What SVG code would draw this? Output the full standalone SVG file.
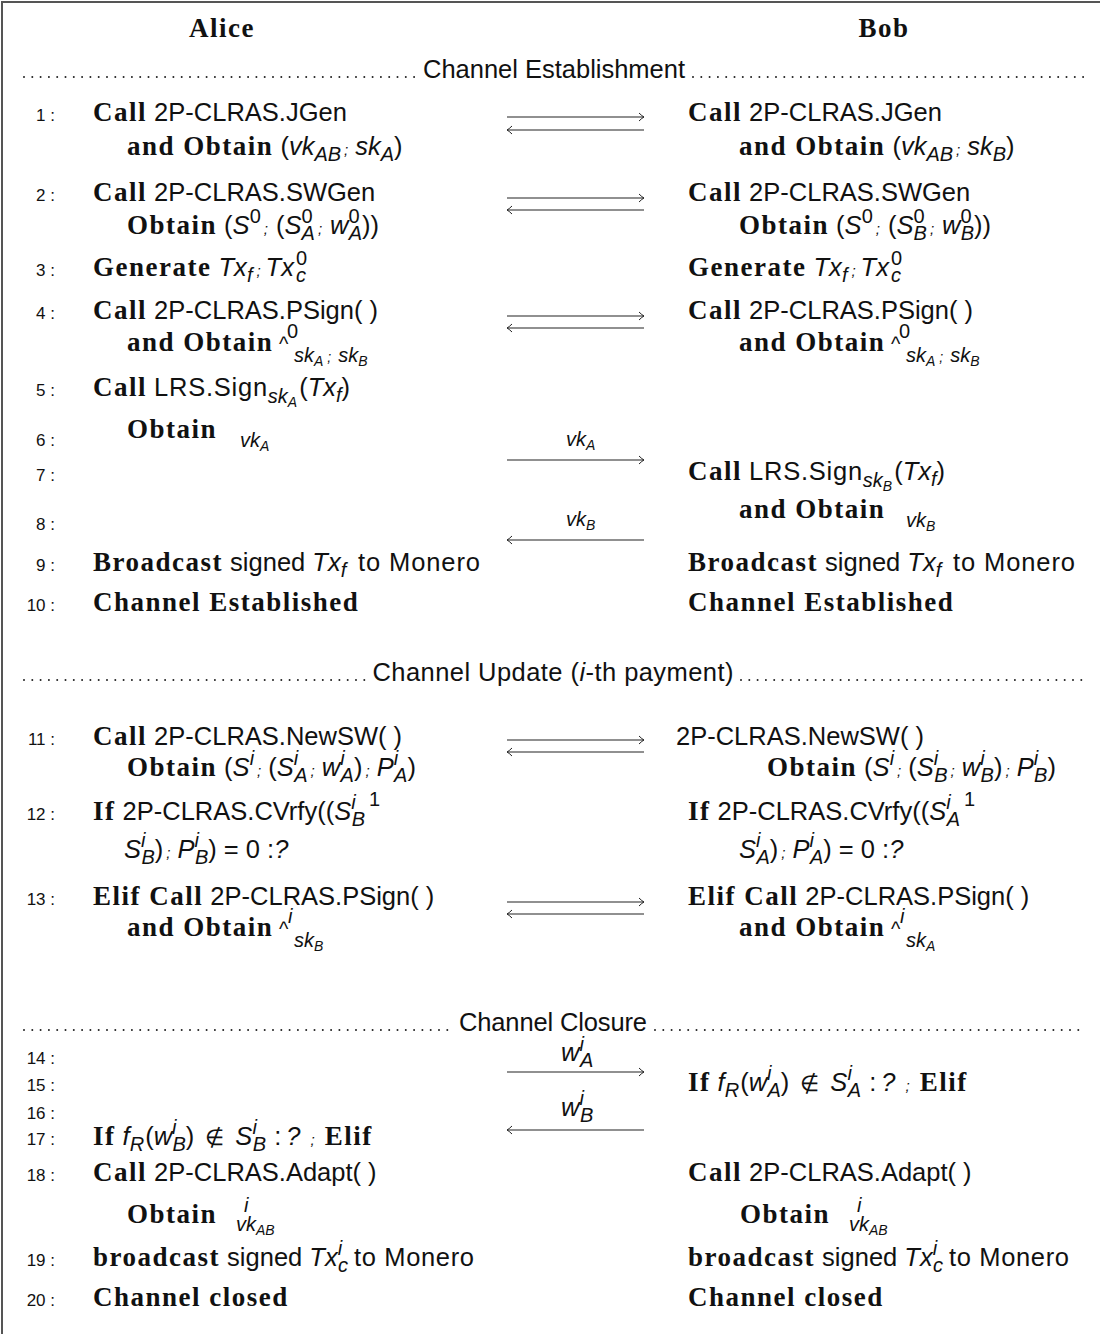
<svg xmlns="http://www.w3.org/2000/svg" width="1100" height="1334" viewBox="0 0 1100 1334">
<style>
text { font-family: "Liberation Sans", Arial, sans-serif; font-size: 25.5px; fill: #111; }
.b { font-family: "Liberation Serif", "Times New Roman", serif; font-weight: bold; font-size: 27px; letter-spacing: 1.5px; }
.i { font-style: italic; }
.s { font-style: italic; font-size: 20px; }
.su { font-size: 20px; }
.ss { font-style: italic; font-size: 14px; }
.sm { font-style: italic; font-size: 15px; }
.n { font-size: 17px; }
.ne { font-size: 22px; }
.dots { stroke: #222; stroke-width: 2; stroke-linecap: round; stroke-dasharray: 0 8.3; fill: none; }
.arr { stroke: #222; stroke-width: 1.2; fill: none; marker-end: url(#ah); }
</style>
<defs>
<marker id="ah" markerWidth="10" markerHeight="10" refX="7" refY="5" orient="auto" markerUnits="userSpaceOnUse">
<path d="M2,1 Q5,4 7,5 Q5,6 2,9" fill="none" stroke="#222" stroke-width="1"/>
</marker>
</defs>
<rect width="1100" height="1334" fill="#fff"/>
<path d="M2,1334 V2 H1100" fill="none" stroke="#555" stroke-width="2"/>

<g id="header">
<text x="222" y="37" text-anchor="middle" class="b">Alice</text>
<text x="884" y="37" text-anchor="middle" class="b">Bob</text>
</g>

<g id="sections">
<line class="dots" x1="24" y1="77" x2="417" y2="77"/>
<text x="554" y="78" text-anchor="middle" textLength="262">Channel Establishment</text>
<line class="dots" x1="693" y1="77" x2="1085" y2="77"/>
<line class="dots" x1="24" y1="680" x2="366" y2="680"/>
<text x="553" y="681" text-anchor="middle" textLength="361">Channel Update (<tspan class="i">i</tspan>-th payment)</text>
<line class="dots" x1="741" y1="680" x2="1085" y2="680"/>
<line class="dots" x1="24" y1="1030" x2="453" y2="1030"/>
<text x="553" y="1031" text-anchor="middle" textLength="188">Channel Closure</text>
<line class="dots" x1="655" y1="1030" x2="1085" y2="1030"/>
</g>

<g id="line-numbers">
<text class="n" x="55" y="121" text-anchor="end">1 :</text>
<text class="n" x="55" y="201" text-anchor="end">2 :</text>
<text class="n" x="55" y="276" text-anchor="end">3 :</text>
<text class="n" x="55" y="319" text-anchor="end">4 :</text>
<text class="n" x="55" y="396" text-anchor="end">5 :</text>
<text class="n" x="55" y="446" text-anchor="end">6 :</text>
<text class="n" x="55" y="481" text-anchor="end">7 :</text>
<text class="n" x="55" y="530" text-anchor="end">8 :</text>
<text class="n" x="55" y="571" text-anchor="end">9 :</text>
<text class="n" x="55" y="611" text-anchor="end">10 :</text>
<text class="n" x="55" y="745" text-anchor="end">11 :</text>
<text class="n" x="55" y="820" text-anchor="end">12 :</text>
<text class="n" x="55" y="905" text-anchor="end">13 :</text>
<text class="n" x="55" y="1064" text-anchor="end">14 :</text>
<text class="n" x="55" y="1091" text-anchor="end">15 :</text>
<text class="n" x="55" y="1119" text-anchor="end">16 :</text>
<text class="n" x="55" y="1145" text-anchor="end">17 :</text>
<text class="n" x="55" y="1181" text-anchor="end">18 :</text>
<text class="n" x="55" y="1266" text-anchor="end">19 :</text>
<text class="n" x="55" y="1306" text-anchor="end">20 :</text>
</g>

<g id="alice">
<text x="93" y="121"><tspan class="b">Call</tspan> 2P-CLRAS.JGen</text>
<text x="127" y="155"><tspan class="b">and Obtain</tspan> (<tspan class="i">vk</tspan><tspan class="s" dy="6">AB</tspan><tspan class="sm" dx="3" dy="-6">;</tspan><tspan class="i" dx="7">sk</tspan><tspan class="s" dy="6">A</tspan><tspan dy="-6">)</tspan></text>
<text x="93" y="201"><tspan class="b">Call</tspan> 2P-CLRAS.SWGen</text>
<text x="127" y="234"><tspan class="b">Obtain</tspan> (<tspan class="i">S</tspan><tspan class="su" dy="-11">0</tspan><tspan class="sm" dx="3" dy="11">;</tspan><tspan dx="8">(</tspan><tspan class="i">S</tspan><tspan class="su" dy="-11">0</tspan><tspan class="s" dx="-11" dy="17">A</tspan><tspan class="sm" dx="3" dy="-6">;</tspan><tspan class="i" dx="8">w</tspan><tspan class="su" dy="-11">0</tspan><tspan class="s" dx="-11" dy="17">A</tspan><tspan dy="-6">))</tspan></text>
<text x="93" y="276"><tspan class="b">Generate</tspan> <tspan class="i">Tx</tspan><tspan class="s" dy="6">f</tspan><tspan class="sm" dx="4" dy="-6">;</tspan><tspan class="i" dx="5">Tx</tspan><tspan class="su" dx="2" dy="-11">0</tspan><tspan class="s" dx="-11" dy="17">c</tspan></text>
<text x="93" y="319"><tspan class="b">Call</tspan> 2P-CLRAS.PSign( )</text>
<text x="127" y="351"><tspan class="b">and Obtain</tspan><tspan class="su" x="279" y="351">^</tspan><tspan class="su" x="287" y="338">0</tspan><tspan class="s" x="294" y="362">sk</tspan><tspan class="ss" dy="4">A</tspan><tspan class="ss" dx="4" dy="-4">;</tspan><tspan class="s" dx="7">sk</tspan><tspan class="ss" dy="4">B</tspan></text>
<text x="93" y="396"><tspan class="b">Call</tspan> <tspan textLength="113">LRS.Sign</tspan><tspan class="s" dy="7">sk</tspan><tspan class="ss" dy="4">A</tspan><tspan dx="2" dy="-11">(</tspan><tspan class="i">Tx</tspan><tspan class="s" dy="6">f</tspan><tspan dy="-6">)</tspan></text>
<text x="127" y="438"><tspan class="b">Obtain</tspan><tspan class="s" x="240" y="447">vk</tspan><tspan class="ss" dy="4">A</tspan></text>
<text x="93" y="571"><tspan class="b">Broadcast</tspan> signed <tspan class="i">Tx</tspan><tspan class="s" dy="6">f</tspan><tspan x="358" dy="-6" textLength="122">to Monero</tspan></text>
<text x="93" y="611" class="b">Channel Established</text>
<text x="93" y="745"><tspan class="b">Call</tspan> 2P-CLRAS.NewSW( )</text>
<text x="127" y="776"><tspan class="b">Obtain</tspan> (<tspan class="i">S</tspan><tspan class="s" dy="-11">i</tspan><tspan class="sm" dx="3" dy="11">;</tspan><tspan dx="7">(</tspan><tspan class="i">S</tspan><tspan class="s" dy="-11">i</tspan><tspan class="s" dx="-4" dy="17">A</tspan><tspan class="sm" dx="3" dy="-6">;</tspan><tspan class="i" dx="7">w</tspan><tspan class="s" dy="-11">i</tspan><tspan class="s" dx="-4" dy="17">A</tspan><tspan dy="-6">)</tspan><tspan class="sm" dx="3">;</tspan><tspan class="i" dx="7">P</tspan><tspan class="s" dy="-11">i</tspan><tspan class="s" dx="-4" dy="17">A</tspan><tspan dy="-6">)</tspan></text>
<text x="93" y="820"><tspan class="b">If</tspan> 2P-CLRAS.CVrfy((<tspan class="i">S</tspan><tspan class="s" dy="-11">i</tspan><tspan class="s" dx="-4" dy="17">B</tspan><tspan class="su" dx="4" dy="-20">1</tspan></text>
<text x="124" y="858"><tspan class="i">S</tspan><tspan class="s" dy="-11">i</tspan><tspan class="s" dx="-4" dy="17">B</tspan><tspan dy="-6">)</tspan><tspan class="sm" dx="3">;</tspan><tspan class="i" dx="7">P</tspan><tspan class="s" dy="-11">i</tspan><tspan class="s" dx="-4" dy="17">B</tspan><tspan dy="-6">) = 0 :</tspan><tspan class="i">?</tspan></text>
<text x="93" y="905"><tspan class="b">Elif Call</tspan> 2P-CLRAS.PSign( )</text>
<text x="127" y="936"><tspan class="b">and Obtain</tspan><tspan class="su" x="279" y="936">^</tspan><tspan class="s" x="288" y="923">i</tspan><tspan class="s" x="294" y="947">sk</tspan><tspan class="ss" dy="4">B</tspan></text>
<text x="93" y="1145"><tspan class="b">If</tspan> <tspan class="i">f</tspan><tspan class="s" dy="6">R</tspan><tspan dx="1" dy="-6">(</tspan><tspan class="i">w</tspan><tspan class="s" dy="-11">i</tspan><tspan class="s" dx="-4" dy="17">B</tspan><tspan dy="-6">)</tspan><tspan class="ne" dx="11">∉</tspan><tspan class="i" dx="11">S</tspan><tspan class="s" dy="-11">i</tspan><tspan class="s" dx="-4" dy="17">B</tspan><tspan dx="8" dy="-6">:</tspan><tspan class="i" dx="5">?</tspan><tspan class="sm" dx="10">;</tspan><tspan class="b" dx="10">Elif</tspan></text>
<text x="93" y="1181"><tspan class="b">Call</tspan> 2P-CLRAS.Adapt( )</text>
<text x="127" y="1223"><tspan class="b">Obtain</tspan><tspan class="s" x="244" y="1212">i</tspan><tspan class="s" x="236" y="1231">vk</tspan><tspan class="ss" dy="4">AB</tspan></text>
<text x="93" y="1266"><tspan class="b">broadcast</tspan> signed <tspan class="i">Tx</tspan><tspan class="s" dy="-11">i</tspan><tspan class="s" dx="-4" dy="17">c</tspan><tspan x="354" dy="-6" textLength="120">to Monero</tspan></text>
<text x="93" y="1306" class="b">Channel closed</text>
</g>

<g id="bob">
<text x="688" y="121"><tspan class="b">Call</tspan> 2P-CLRAS.JGen</text>
<text x="739" y="155"><tspan class="b">and Obtain</tspan> (<tspan class="i">vk</tspan><tspan class="s" dy="6">AB</tspan><tspan class="sm" dx="3" dy="-6">;</tspan><tspan class="i" dx="7">sk</tspan><tspan class="s" dy="6">B</tspan><tspan dy="-6">)</tspan></text>
<text x="688" y="201"><tspan class="b">Call</tspan> 2P-CLRAS.SWGen</text>
<text x="739" y="234"><tspan class="b">Obtain</tspan> (<tspan class="i">S</tspan><tspan class="su" dy="-11">0</tspan><tspan class="sm" dx="3" dy="11">;</tspan><tspan dx="8">(</tspan><tspan class="i">S</tspan><tspan class="su" dy="-11">0</tspan><tspan class="s" dx="-11" dy="17">B</tspan><tspan class="sm" dx="3" dy="-6">;</tspan><tspan class="i" dx="8">w</tspan><tspan class="su" dy="-11">0</tspan><tspan class="s" dx="-11" dy="17">B</tspan><tspan dy="-6">))</tspan></text>
<text x="688" y="276"><tspan class="b">Generate</tspan> <tspan class="i">Tx</tspan><tspan class="s" dy="6">f</tspan><tspan class="sm" dx="4" dy="-6">;</tspan><tspan class="i" dx="5">Tx</tspan><tspan class="su" dx="2" dy="-11">0</tspan><tspan class="s" dx="-11" dy="17">c</tspan></text>
<text x="688" y="319"><tspan class="b">Call</tspan> 2P-CLRAS.PSign( )</text>
<text x="739" y="351"><tspan class="b">and Obtain</tspan><tspan class="su" x="891" y="351">^</tspan><tspan class="su" x="899" y="338">0</tspan><tspan class="s" x="906" y="362">sk</tspan><tspan class="ss" dy="4">A</tspan><tspan class="ss" dx="4" dy="-4">;</tspan><tspan class="s" dx="7">sk</tspan><tspan class="ss" dy="4">B</tspan></text>
<text x="688" y="480"><tspan class="b">Call</tspan> <tspan textLength="113">LRS.Sign</tspan><tspan class="s" dy="7">sk</tspan><tspan class="ss" dy="4">B</tspan><tspan dx="2" dy="-11">(</tspan><tspan class="i">Tx</tspan><tspan class="s" dy="6">f</tspan><tspan dy="-6">)</tspan></text>
<text x="739" y="518"><tspan class="b">and Obtain</tspan><tspan class="s" x="906" y="527">vk</tspan><tspan class="ss" dy="4">B</tspan></text>
<text x="688" y="571"><tspan class="b">Broadcast</tspan> signed <tspan class="i">Tx</tspan><tspan class="s" dy="6">f</tspan><tspan x="953" dy="-6" textLength="122">to Monero</tspan></text>
<text x="688" y="611" class="b">Channel Established</text>
<text x="676" y="745">2P-CLRAS.NewSW( )</text>
<text x="767" y="776"><tspan class="b">Obtain</tspan> (<tspan class="i">S</tspan><tspan class="s" dy="-11">i</tspan><tspan class="sm" dx="3" dy="11">;</tspan><tspan dx="7">(</tspan><tspan class="i">S</tspan><tspan class="s" dy="-11">i</tspan><tspan class="s" dx="-4" dy="17">B</tspan><tspan class="sm" dx="3" dy="-6">;</tspan><tspan class="i" dx="7">w</tspan><tspan class="s" dy="-11">i</tspan><tspan class="s" dx="-4" dy="17">B</tspan><tspan dy="-6">)</tspan><tspan class="sm" dx="3">;</tspan><tspan class="i" dx="7">P</tspan><tspan class="s" dy="-11">i</tspan><tspan class="s" dx="-4" dy="17">B</tspan><tspan dy="-6">)</tspan></text>
<text x="688" y="820"><tspan class="b">If</tspan> 2P-CLRAS.CVrfy((<tspan class="i">S</tspan><tspan class="s" dy="-11">i</tspan><tspan class="s" dx="-4" dy="17">A</tspan><tspan class="su" dx="4" dy="-20">1</tspan></text>
<text x="739" y="858"><tspan class="i">S</tspan><tspan class="s" dy="-11">i</tspan><tspan class="s" dx="-4" dy="17">A</tspan><tspan dy="-6">)</tspan><tspan class="sm" dx="3">;</tspan><tspan class="i" dx="7">P</tspan><tspan class="s" dy="-11">i</tspan><tspan class="s" dx="-4" dy="17">A</tspan><tspan dy="-6">) = 0 :</tspan><tspan class="i">?</tspan></text>
<text x="688" y="905"><tspan class="b">Elif Call</tspan> 2P-CLRAS.PSign( )</text>
<text x="739" y="936"><tspan class="b">and Obtain</tspan><tspan class="su" x="891" y="936">^</tspan><tspan class="s" x="900" y="923">i</tspan><tspan class="s" x="906" y="947">sk</tspan><tspan class="ss" dy="4">A</tspan></text>
<text x="688" y="1091"><tspan class="b">If</tspan> <tspan class="i">f</tspan><tspan class="s" dy="6">R</tspan><tspan dx="1" dy="-6">(</tspan><tspan class="i">w</tspan><tspan class="s" dy="-11">i</tspan><tspan class="s" dx="-4" dy="17">A</tspan><tspan dy="-6">)</tspan><tspan class="ne" dx="11">∉</tspan><tspan class="i" dx="11">S</tspan><tspan class="s" dy="-11">i</tspan><tspan class="s" dx="-4" dy="17">A</tspan><tspan dx="8" dy="-6">:</tspan><tspan class="i" dx="5">?</tspan><tspan class="sm" dx="10">;</tspan><tspan class="b" dx="10">Elif</tspan></text>
<text x="688" y="1181"><tspan class="b">Call</tspan> 2P-CLRAS.Adapt( )</text>
<text x="740" y="1223"><tspan class="b">Obtain</tspan><tspan class="s" x="857" y="1212">i</tspan><tspan class="s" x="849" y="1231">vk</tspan><tspan class="ss" dy="4">AB</tspan></text>
<text x="688" y="1266"><tspan class="b">broadcast</tspan> signed <tspan class="i">Tx</tspan><tspan class="s" dy="-11">i</tspan><tspan class="s" dx="-4" dy="17">c</tspan><tspan x="949" dy="-6" textLength="120">to Monero</tspan></text>
<text x="688" y="1306" class="b">Channel closed</text>
</g>

<g id="connectors">
<line class="arr" x1="507" y1="117" x2="644" y2="117"/>
<line class="arr" x1="644" y1="130" x2="507" y2="130"/>
<line class="arr" x1="507" y1="198" x2="644" y2="198"/>
<line class="arr" x1="644" y1="210" x2="507" y2="210"/>
<line class="arr" x1="507" y1="316" x2="644" y2="316"/>
<line class="arr" x1="644" y1="328" x2="507" y2="328"/>
<text x="566" y="446"><tspan class="s">vk</tspan><tspan class="ss" dy="4">A</tspan></text>
<line class="arr" x1="507" y1="460" x2="644" y2="460"/>
<text x="566" y="526"><tspan class="s">vk</tspan><tspan class="ss" dy="4">B</tspan></text>
<line class="arr" x1="644" y1="540" x2="507" y2="540"/>
<line class="arr" x1="507" y1="740" x2="644" y2="740"/>
<line class="arr" x1="644" y1="752" x2="507" y2="752"/>
<line class="arr" x1="507" y1="902" x2="644" y2="902"/>
<line class="arr" x1="644" y1="914" x2="507" y2="914"/>
<text x="561" y="1061"><tspan class="i">w</tspan><tspan class="s" dy="-10">i</tspan><tspan class="s" dx="-4" dy="16">A</tspan></text>
<line class="arr" x1="507" y1="1072" x2="644" y2="1072"/>
<text x="561" y="1116"><tspan class="i">w</tspan><tspan class="s" dy="-11">i</tspan><tspan class="s" dx="-4" dy="17">B</tspan></text>
<line class="arr" x1="644" y1="1130" x2="507" y2="1130"/>
</g>
</svg>
